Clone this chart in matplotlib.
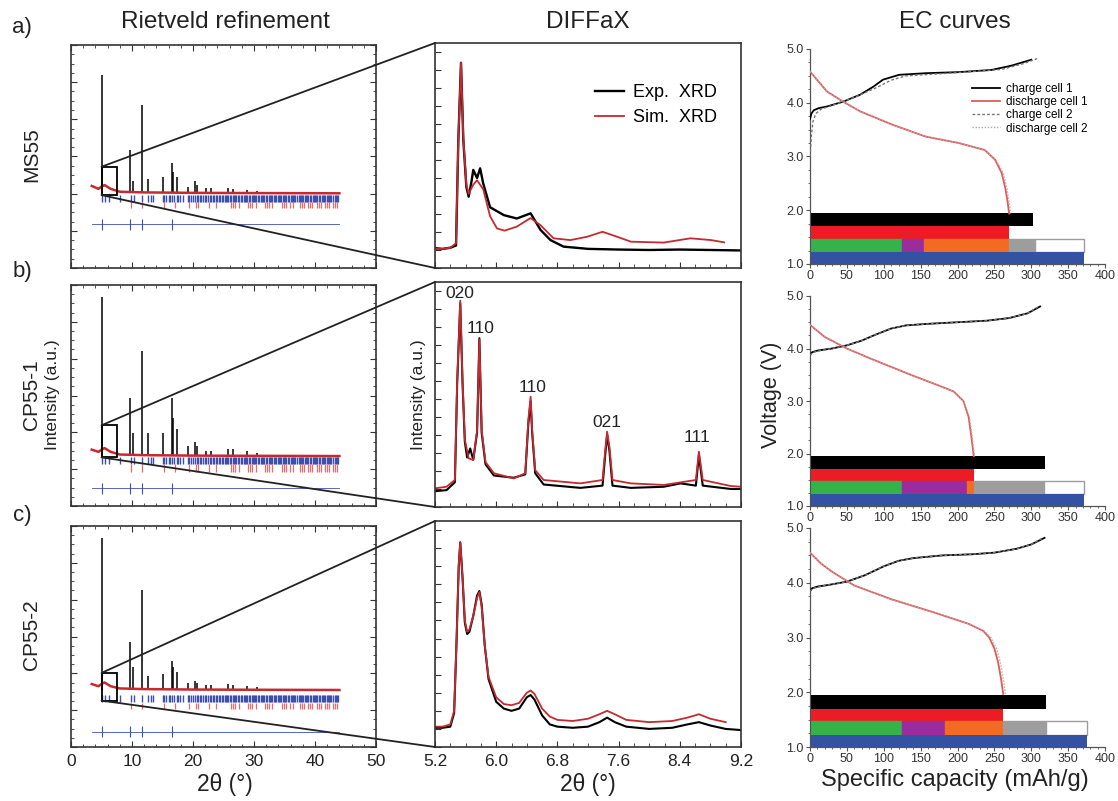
import matplotlib
matplotlib.use('Agg')
import matplotlib.pyplot as plt
from matplotlib.patches import Rectangle, ConnectionPatch
from matplotlib.ticker import MultipleLocator, FormatStrFormatter, FixedLocator
from matplotlib.lines import Line2D

plt.rcParams['font.family'] = ['Liberation Sans', 'DejaVu Sans']

# ---------------- data ----------------
samples = ['MS55', 'CP55-1', 'CP55-2']
row_letters = ['a)', 'b)', 'c)']

# Rietveld: reflection positions (2theta) and observed peak tops per sample
riet_pos = [5.0, 9.7, 10.1, 11.6, 12.6, 15.0, 16.5, 16.8, 17.3, 19.2, 20.3, 20.6, 22.2, 23.0, 25.8, 26.6, 28.8, 30.5]
riet_top_ms55 = [0.865, 0.53, 0.39, 0.73, 0.40, 0.41, 0.47, 0.43, 0.41, 0.365, 0.39, 0.37, 0.36, 0.36, 0.36, 0.355, 0.35, 0.345]
riet_top_cp1 = [0.945, 0.49, 0.33, 0.70, 0.33, 0.33, 0.49, 0.40, 0.35, 0.27, 0.29, 0.27, 0.25, 0.25, 0.26, 0.26, 0.25, 0.24]
riet_top_cp2 = [0.945, 0.475, 0.36, 0.71, 0.32, 0.33, 0.39, 0.36, 0.34, 0.29, 0.30, 0.29, 0.28, 0.28, 0.285, 0.28, 0.275, 0.27]
riet_base = [0.335, 0.226, 0.258]
riet_bg_x = [3.4, 4.5, 5.0, 5.5, 6.5, 8.0, 12.0, 20.0, 30.0, 44.0]
riet_bg_ms55 = [0.368, 0.355, 0.365, 0.372, 0.355, 0.342, 0.339, 0.337, 0.336, 0.335]
riet_bg_cp1 = [0.255, 0.245, 0.255, 0.262, 0.245, 0.233, 0.23, 0.228, 0.227, 0.226]
riet_bg_cp2 = [0.285, 0.275, 0.285, 0.292, 0.275, 0.265, 0.262, 0.260, 0.259, 0.258]
bragg_blue = [5.0, 5.6, 6.2, 8.0, 9.8, 10.4, 11.6, 12.6, 13.1, 13.4, 15.0, 15.3, 15.6, 16.0, 16.2, 16.5,
              16.9, 17.3, 17.6, 17.9, 18.3, 19.2, 19.4, 19.6, 20.0, 20.3, 20.6, 20.8, 21.1, 21.3, 21.6,
              21.9, 22.2, 22.5, 22.8, 23.0, 23.2, 23.4, 23.7, 23.9, 24.2, 24.5, 24.7, 24.9, 25.2,
              25.4, 25.6, 25.8, 26.0, 26.3, 26.5, 26.7, 26.9, 27.1, 27.4, 27.6, 27.8, 28.0, 28.3,
              28.5, 28.7, 28.9, 29.1, 29.3, 29.6, 29.8, 30.0, 30.2, 30.4, 30.6, 30.9, 31.1, 31.3,
              31.5, 31.7, 31.9, 32.2, 32.4, 32.6, 32.8, 33.0, 33.2, 33.4, 33.6, 33.9, 34.1, 34.3,
              34.5, 34.7, 34.9, 35.1, 35.3, 35.6, 35.8, 36.0, 36.2, 36.4, 36.6, 36.8, 37.0, 37.3,
              37.5, 37.7, 37.9, 38.1, 38.3, 38.5, 38.7, 38.9, 39.1, 39.4, 39.6, 39.8, 40.0, 40.2,
              40.4, 40.6, 40.8, 41.1, 41.3, 41.5, 41.7, 41.9, 42.1, 42.3, 42.5, 42.7, 42.9, 43.2,
              43.4, 43.6, 43.8]
bragg_red = [9.9, 11.7, 15.2, 17.0, 19.4, 20.5, 20.9, 22.6, 23.8, 26.2, 26.6, 26.9, 27.5, 29.0, 29.3,
             29.6, 30.4, 31.8, 32.1, 32.4, 33.0, 34.6, 34.9, 35.2, 35.9, 36.4, 37.6, 37.9, 38.2, 38.9,
             39.2, 39.5, 40.3, 40.6, 41.0, 41.6, 41.9, 42.3, 43.0, 43.3, 43.6]
bragg_blue_band = [(0.297, 0.327), (0.19, 0.22), (0.205, 0.235)]
bragg_red_band = [(0.267, 0.297), (0.155, 0.19), (0.17, 0.20)]
diff_level = [0.196, 0.08, 0.07]
diff_spike_pos = [5.0, 9.7, 11.6, 16.5]
zoom_box_y = [(0.327, 0.454), (0.22, 0.365), (0.21, 0.335)]
zoom_box_x = (5.0, 7.5)

# DIFFaX: experimental and simulated patterns
diffax_ticks = [5.2, 6.0, 6.8, 7.6, 8.4, 9.2]
ms55_exp_x = [5.20, 5.30, 5.40, 5.475, 5.505, 5.54, 5.57, 5.61, 5.64, 5.68, 5.70, 5.75, 5.79, 5.83, 5.92, 6.10, 6.27, 6.45, 6.58, 6.71, 6.88, 7.2, 7.6, 8.0, 8.4, 8.8, 9.2]
ms55_exp_y = [0.088, 0.085, 0.09, 0.10, 0.569, 0.912, 0.57, 0.36, 0.317, 0.39, 0.436, 0.40, 0.443, 0.376, 0.27, 0.235, 0.22, 0.243, 0.169, 0.124, 0.095, 0.085, 0.082, 0.08, 0.082, 0.08, 0.078]
ms55_sim_x = [5.20, 5.30, 5.40, 5.475, 5.505, 5.54, 5.57, 5.61, 5.64, 5.70, 5.75, 5.83, 5.92, 6.01, 6.11, 6.27, 6.45, 6.58, 6.75, 6.97, 7.19, 7.39, 7.58, 7.76, 8.19, 8.54, 8.81, 8.98]
ms55_sim_y = [0.085, 0.085, 0.09, 0.11, 0.569, 0.912, 0.58, 0.37, 0.33, 0.37, 0.39, 0.35, 0.23, 0.176, 0.166, 0.184, 0.222, 0.19, 0.132, 0.124, 0.139, 0.161, 0.139, 0.117, 0.113, 0.132, 0.124, 0.114]

cp1_exp_x = [5.20, 5.35, 5.46, 5.49, 5.53, 5.56, 5.59, 5.62, 5.66, 5.70, 5.75, 5.78, 5.81, 5.86, 5.97, 6.10, 6.23, 6.38, 6.42, 6.45, 6.47, 6.51, 6.62, 7.10, 7.39, 7.43, 7.45, 7.48, 7.52, 7.76, 8.19, 8.41, 8.61, 8.65, 8.70, 9.07, 9.20]
cp1_exp_y = [0.07, 0.075, 0.11, 0.55, 0.905, 0.55, 0.29, 0.22, 0.26, 0.21, 0.33, 0.75, 0.33, 0.19, 0.14, 0.135, 0.13, 0.145, 0.37, 0.47, 0.33, 0.15, 0.10, 0.085, 0.095, 0.25, 0.32, 0.25, 0.095, 0.085, 0.09, 0.105, 0.095, 0.23, 0.095, 0.08, 0.08]
cp1_sim_x = [5.20, 5.35, 5.46, 5.49, 5.53, 5.56, 5.59, 5.64, 5.70, 5.75, 5.78, 5.81, 5.86, 5.97, 6.23, 6.38, 6.42, 6.45, 6.47, 6.51, 6.62, 7.10, 7.39, 7.43, 7.45, 7.48, 7.52, 7.76, 8.19, 8.61, 8.65, 8.70, 9.07, 9.20]
cp1_sim_y = [0.083, 0.09, 0.12, 0.56, 0.917, 0.56, 0.30, 0.216, 0.209, 0.342, 0.745, 0.342, 0.20, 0.15, 0.127, 0.15, 0.387, 0.49, 0.342, 0.164, 0.12, 0.105, 0.12, 0.268, 0.335, 0.268, 0.12, 0.105, 0.098, 0.12, 0.246, 0.12, 0.093, 0.09]

cp2_exp_x = [5.20, 5.30, 5.40, 5.45, 5.48, 5.51, 5.53, 5.56, 5.59, 5.62, 5.65, 5.70, 5.75, 5.78, 5.81, 5.85, 5.90, 6.00, 6.10, 6.20, 6.30, 6.40, 6.45, 6.50, 6.60, 6.70, 6.80, 7.00, 7.20, 7.35, 7.45, 7.55, 7.70, 8.00, 8.30, 8.50, 8.65, 8.80, 9.00, 9.20]
cp2_exp_y = [0.085, 0.085, 0.09, 0.15, 0.45, 0.80, 0.905, 0.75, 0.55, 0.50, 0.51, 0.58, 0.67, 0.69, 0.63, 0.45, 0.30, 0.20, 0.17, 0.16, 0.17, 0.22, 0.23, 0.21, 0.14, 0.10, 0.09, 0.085, 0.09, 0.11, 0.13, 0.11, 0.09, 0.08, 0.085, 0.10, 0.11, 0.095, 0.08, 0.075]
cp2_sim_x = [5.20, 5.30, 5.40, 5.45, 5.48, 5.51, 5.53, 5.56, 5.59, 5.62, 5.65, 5.70, 5.75, 5.78, 5.81, 5.85, 5.90, 6.00, 6.10, 6.20, 6.30, 6.40, 6.45, 6.50, 6.60, 6.70, 6.80, 7.00, 7.20, 7.35, 7.45, 7.55, 7.70, 8.00, 8.30, 8.50, 8.65, 8.80, 9.00]
cp2_sim_y = [0.09, 0.09, 0.10, 0.16, 0.45, 0.80, 0.907, 0.75, 0.56, 0.51, 0.52, 0.58, 0.66, 0.685, 0.62, 0.45, 0.31, 0.22, 0.19, 0.185, 0.195, 0.24, 0.25, 0.235, 0.17, 0.135, 0.12, 0.115, 0.125, 0.145, 0.16, 0.145, 0.12, 0.11, 0.115, 0.13, 0.145, 0.125, 0.11]

peak_labels = ['020', '110', '110', '021', '111']
peak_label_x = [5.53, 5.79, 6.47, 7.45, 8.63]
peak_label_y = [0.95, 0.795, 0.53, 0.375, 0.31]

# EC curves (capacity mAh/g, voltage V)
ms55_ch1_q = [0, 2, 5, 12, 23, 45, 68, 86, 99, 121, 157, 202, 246, 273, 300]
ms55_ch1_v = [3.70, 3.80, 3.86, 3.90, 3.93, 4.02, 4.15, 4.30, 4.43, 4.52, 4.55, 4.57, 4.61, 4.69, 4.80]
ms55_dis1_q = [0, 23, 45, 68, 112, 157, 202, 237, 251, 260, 265, 268, 270]
ms55_dis1_v = [4.58, 4.21, 4.02, 3.84, 3.59, 3.37, 3.25, 3.12, 2.94, 2.69, 2.40, 2.15, 1.94]
ms55_ch2_q = [0, 2, 4, 8, 15, 30, 60, 90, 110, 130, 200, 260, 290, 308]
ms55_ch2_v = [3.0, 3.4, 3.65, 3.80, 3.88, 3.95, 4.10, 4.28, 4.42, 4.50, 4.56, 4.62, 4.73, 4.82]
ms55_dis2_q = [0, 23, 45, 68, 112, 157, 202, 237, 252, 262, 267, 270, 272]
ms55_dis2_v = [4.58, 4.21, 4.02, 3.84, 3.59, 3.37, 3.25, 3.12, 2.94, 2.69, 2.40, 2.15, 1.94]

cp1_ch1_q = [0, 3, 10, 30, 50, 70, 90, 110, 130, 160, 200, 240, 270, 295, 312]
cp1_ch1_v = [3.88, 3.93, 3.96, 4.00, 4.06, 4.15, 4.27, 4.38, 4.44, 4.47, 4.50, 4.53, 4.58, 4.67, 4.80]
cp1_dis1_q = [0, 20, 50, 80, 110, 140, 170, 195, 208, 215, 219, 222]
cp1_dis1_v = [4.45, 4.22, 4.00, 3.82, 3.65, 3.48, 3.32, 3.18, 3.00, 2.70, 2.30, 1.95]
cp1_ch2_q = [0, 3, 10, 30, 50, 70, 90, 110, 130, 160, 200, 240, 270, 295, 310]
cp1_ch2_v = [3.87, 3.92, 3.95, 4.00, 4.06, 4.15, 4.27, 4.38, 4.44, 4.47, 4.50, 4.53, 4.58, 4.67, 4.80]
cp1_dis2_q = [0, 20, 50, 80, 110, 140, 170, 195, 208, 216, 220, 223]
cp1_dis2_v = [4.45, 4.22, 4.00, 3.82, 3.65, 3.48, 3.32, 3.18, 3.00, 2.70, 2.30, 1.95]

cp2_ch1_q = [0, 3, 10, 25, 50, 75, 100, 120, 140, 180, 220, 250, 280, 300, 318]
cp2_ch1_v = [3.85, 3.90, 3.93, 3.96, 4.02, 4.14, 4.30, 4.40, 4.45, 4.50, 4.52, 4.55, 4.62, 4.70, 4.82]
cp2_dis1_q = [0, 15, 30, 60, 110, 170, 215, 235, 243, 250, 255, 259, 262]
cp2_dis1_v = [4.55, 4.35, 4.20, 3.95, 3.70, 3.45, 3.25, 3.12, 3.00, 2.80, 2.55, 2.25, 1.97]
cp2_ch2_q = [0, 3, 10, 25, 50, 75, 100, 120, 140, 180, 220, 250, 280, 300, 316]
cp2_ch2_v = [3.84, 3.89, 3.92, 3.96, 4.02, 4.14, 4.30, 4.40, 4.45, 4.50, 4.52, 4.55, 4.62, 4.70, 4.82]
cp2_dis2_q = [0, 15, 30, 60, 110, 170, 215, 236, 245, 253, 258, 262, 265]
cp2_dis2_v = [4.55, 4.35, 4.20, 3.95, 3.70, 3.45, 3.25, 3.12, 3.00, 2.80, 2.55, 2.25, 1.97]

# capacity bars (mAh/g)
bar_black = [302, 318, 320]
bar_red = [270, 222, 262]
bar_blue = [372, 372, 375]
seg_edges_ms55 = [0, 125, 155, 270, 305, 372]
seg_edges_cp1 = [0, 125, 213, 222, 317, 372]
seg_edges_cp2 = [0, 125, 183, 262, 320, 375]
seg_colors = ['#35b34a', '#9a2c9c', '#f26b23', '#9d9d9d', '#ffffff']

# ---------------- figure ----------------
W, H = 1118, 801
fig = plt.figure(figsize=(W / 100, H / 100), dpi=100)


def prect(l, t, r, b):
    return [l / W, 1 - b / H, (r - l) / W, (b - t) / H]


def ftext(x, y, s, **kw):
    fig.text(x / W, 1 - y / H, s, **kw)


left_boxes = [(71, 45, 376, 268), (71, 285, 376, 506), (71, 526, 376, 747)]
mid_boxes = [(435, 43, 741, 268), (435, 282, 741, 507), (435, 521, 741, 747)]
ec_boxes = [(810, 49, 1105, 264), (810, 296, 1105, 506), (810, 528, 1105, 747)]

riet_tops = [riet_top_ms55, riet_top_cp1, riet_top_cp2]
riet_bgs = [riet_bg_ms55, riet_bg_cp1, riet_bg_cp2]
diffax = [(ms55_exp_x, ms55_exp_y, ms55_sim_x, ms55_sim_y),
          (cp1_exp_x, cp1_exp_y, cp1_sim_x, cp1_sim_y),
          (cp2_exp_x, cp2_exp_y, cp2_sim_x, cp2_sim_y)]
ec_curves = [
    (ms55_ch1_q, ms55_ch1_v, ms55_dis1_q, ms55_dis1_v, ms55_ch2_q, ms55_ch2_v, ms55_dis2_q, ms55_dis2_v),
    (cp1_ch1_q, cp1_ch1_v, cp1_dis1_q, cp1_dis1_v, cp1_ch2_q, cp1_ch2_v, cp1_dis2_q, cp1_dis2_v),
    (cp2_ch1_q, cp2_ch1_v, cp2_dis1_q, cp2_dis1_v, cp2_ch2_q, cp2_ch2_v, cp2_dis2_q, cp2_dis2_v)]
seg_edges = [seg_edges_ms55, seg_edges_cp1, seg_edges_cp2]

BLUE = '#3d4fae'
PINK = '#e36d6d'
DRED = '#c42a2f'
SPINE = '#333333'

for i in range(3):
    # ---- Rietveld ----
    axL = fig.add_axes(prect(*left_boxes[i]))
    axL.set_xlim(0, 50)
    axL.set_ylim(0, 1)
    base = riet_base[i]
    axL.vlines(riet_pos, base, riet_tops[i], color='black', lw=1.1, zorder=3)
    axL.plot(riet_bg_x, riet_bgs[i], color=DRED, lw=1.8, zorder=4)
    axL.vlines(bragg_blue, *bragg_blue_band[i], color=BLUE, lw=1.0)
    axL.vlines(bragg_red, *bragg_red_band[i], color=PINK, lw=0.9)
    dl = diff_level[i]
    axL.plot([3.4, 44], [dl, dl], color=BLUE, lw=0.6)
    axL.vlines(diff_spike_pos, dl - 0.025, dl + 0.025, color=BLUE, lw=0.8)
    y0, y1 = zoom_box_y[i]
    axL.add_patch(Rectangle((zoom_box_x[0], y0), zoom_box_x[1] - zoom_box_x[0], y1 - y0,
                            fill=False, ec='black', lw=1.3, zorder=5))
    axL.xaxis.set_major_locator(MultipleLocator(10))
    axL.xaxis.set_minor_locator(MultipleLocator(2))
    axL.yaxis.set_major_locator(MultipleLocator(1 / 6))
    axL.yaxis.set_minor_locator(MultipleLocator(1 / 24))
    axL.tick_params(which='both', direction='in', top=True, right=True, colors=SPINE)
    axL.tick_params(which='major', length=4, width=0.8)
    axL.tick_params(which='minor', length=2, width=0.6)
    axL.set_yticklabels([])
    if i < 2:
        axL.set_xticklabels([])
    else:
        axL.tick_params(axis='x', labelsize=12.5, labelcolor='#222222', pad=5)
    for s in axL.spines.values():
        s.set_linewidth(1.2)
        s.set_color(SPINE)

    # ---- DIFFaX ----
    axM = fig.add_axes(prect(*mid_boxes[i]))
    ex, ey, sx, sy = diffax[i]
    axM.plot(ex, ey, color='black', lw=1.7 if i == 0 else 1.5, label='Exp.  XRD')
    axM.plot(sx, sy, color=DRED, lw=1.3, label='Sim.  XRD')
    axM.set_xlim(5.2, 9.2)
    axM.set_ylim(0, 1)
    axM.xaxis.set_major_locator(FixedLocator(diffax_ticks))
    axM.xaxis.set_minor_locator(MultipleLocator(0.2))
    axM.yaxis.set_major_locator(MultipleLocator(0.08))
    axM.tick_params(which='both', direction='in', colors=SPINE)
    axM.tick_params(which='major', length=4, width=0.8)
    axM.tick_params(which='minor', length=3, width=0.6)
    axM.set_yticklabels([])
    if i < 2:
        axM.set_xticklabels([])
    else:
        axM.xaxis.set_major_formatter(FormatStrFormatter('%.1f'))
        axM.tick_params(axis='x', labelsize=12.5, labelcolor='#222222', pad=5)
    for s in axM.spines.values():
        s.set_linewidth(1.2)
        s.set_color(SPINE)
    if i == 0:
        axM.legend(loc='upper left', bbox_to_anchor=(0.47, 0.89), frameon=False,
                   fontsize=13, handlelength=1.6, handletextpad=0.5, labelspacing=0.45)
    if i == 1:
        for lab, lx, ly in zip(peak_labels, peak_label_x, peak_label_y):
            axM.text(lx, ly, lab, ha='center', va='center', fontsize=12.5, color='#222222')

    # connection lines from zoom box to DIFFaX panel
    for ya, yb in ((y1, 1.0), (y0, 0.0)):
        con = ConnectionPatch(xyA=(zoom_box_x[0], ya), coordsA=axL.transData,
                              xyB=(0.0, yb), coordsB=axM.transAxes,
                              color='#222222', lw=1.3)
        fig.add_artist(con)

    # ---- EC curves ----
    axE = fig.add_axes(prect(*ec_boxes[i]))
    axE.barh(1.825, bar_black[i], left=0, height=0.25, color='black', zorder=2)
    axE.barh(1.585, bar_red[i], left=0, height=0.23, color='#ed1c24', zorder=2)
    ed = seg_edges[i]
    for k in range(5):
        axE.barh(1.345, ed[k + 1] - ed[k], left=ed[k], height=0.25, color=seg_colors[k],
                 edgecolor='#9d9d9d' if k == 4 else seg_colors[k], lw=1.0, zorder=2)
    axE.barh(1.11, bar_blue[i], left=0, height=0.22, color='#3452a3', zorder=2)
    c1q, c1v, d1q, d1v, c2q, c2v, d2q, d2v = ec_curves[i]
    axE.plot(c1q, c1v, color='black', lw=1.3, zorder=4, label='charge cell 1')
    axE.plot(d1q, d1v, color='#e05a5a', lw=1.3, zorder=4, label='discharge cell 1')
    axE.plot(c2q, c2v, color='#777777', lw=1.0, ls=(0, (2, 1.5)), zorder=5, label='charge cell 2')
    axE.plot(d2q, d2v, color='#c8a0a0', lw=1.0, ls=(0, (1, 1.2)), zorder=5, label='discharge cell 2')
    axE.set_xlim(0, 400)
    axE.set_ylim(1.0, 5.0)
    axE.spines['top'].set_visible(False)
    axE.spines['right'].set_visible(False)
    for s in ('left', 'bottom'):
        axE.spines[s].set_color('#555555')
        axE.spines[s].set_linewidth(0.9)
    axE.xaxis.set_major_locator(MultipleLocator(50))
    axE.xaxis.set_minor_locator(MultipleLocator(10))
    axE.yaxis.set_major_locator(MultipleLocator(1.0))
    axE.yaxis.set_minor_locator(MultipleLocator(0.25))
    axE.yaxis.set_major_formatter(FormatStrFormatter('%.1f'))
    axE.tick_params(which='both', direction='out', colors='#555555', labelsize=9,
                    labelcolor='#333333')
    axE.tick_params(which='major', length=3, width=0.8, pad=1.5)
    axE.tick_params(which='minor', length=1.5, width=0.6)
    if i == 0:
        axE.legend(loc='upper left', bbox_to_anchor=(0.52, 0.88), frameon=False,
                   fontsize=8.5, handlelength=2.4, handletextpad=0.5, labelspacing=0.1,
                   borderpad=0.2)

    # row labels
    ftext(22, [28, 272, 515][i], row_letters[i], fontsize=16, ha='center', va='center',
          color='#222222')
    ftext(32, [155, 395, 635][i], samples[i], fontsize=15, rotation=90, ha='center',
          va='center', color='#222222')

# titles and axis labels
ftext(225, 22, 'Rietveld refinement', fontsize=17.5, ha='center', va='center', color='#222222')
ftext(588, 22, 'DIFFaX', fontsize=17.5, ha='center', va='center', color='#222222')
ftext(955, 22, 'EC curves', fontsize=17.5, ha='center', va='center', color='#222222')
ftext(53, 395, 'Intensity (a.u.)', fontsize=12.5, rotation=90, ha='center', va='center', color='#222222')
ftext(418, 395, 'Intensity (a.u.)', fontsize=12.5, rotation=90, ha='center', va='center', color='#222222')
ftext(771, 395, 'Voltage (V)', fontsize=15.5, rotation=90, ha='center', va='center', color='#222222')
ftext(225, 784, '2θ (°)', fontsize=16.5, ha='center', va='center', color='#222222')
ftext(588, 784, '2θ (°)', fontsize=16.5, ha='center', va='center', color='#222222')
ftext(955, 780, 'Specific capacity (mAh/g)', fontsize=17, ha='center', va='center', color='#222222')

fig.savefig('out.png', dpi=100)
